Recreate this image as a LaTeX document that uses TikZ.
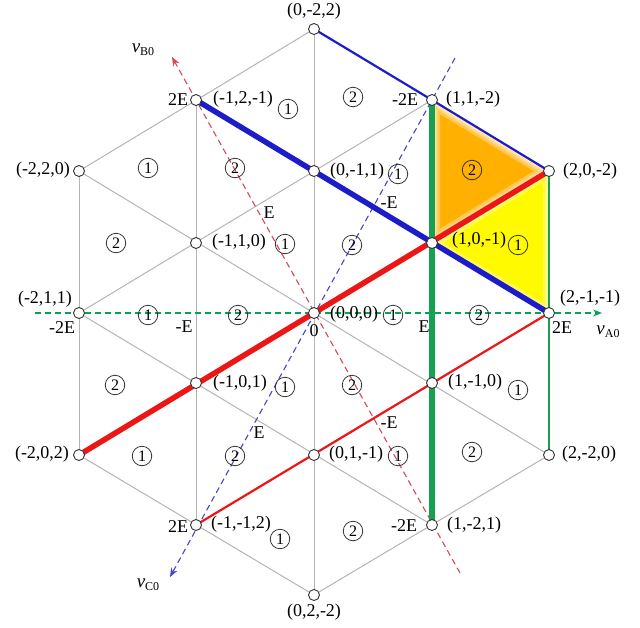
\documentclass[tikz,border=0pt]{standalone}
\usepackage{fontspec}
\setmainfont{Liberation Serif}
\usetikzlibrary{arrows.meta}
\definecolor{myblue}{RGB}{28,28,200}
\definecolor{myred}{RGB}{236,22,22}
\definecolor{mygreen}{RGB}{22,160,82}
\definecolor{gridgray}{RGB}{180,180,180}
\definecolor{myorange}{RGB}{255,176,0}
\definecolor{myyellow}{RGB}{255,250,0}
\definecolor{axred}{RGB}{215,70,85}
\definecolor{axblue}{RGB}{70,70,200}
\definecolor{axgreen}{RGB}{0,165,90}
\pgfdeclarelayer{bg}
\pgfsetlayers{bg,main}
\begin{document}
\begin{tikzpicture}[x=1pt,y=-1pt,
  pt/.style={circle,draw=black!80,fill=white,line width=0.9pt,minimum size=11pt,inner sep=0pt},
  lab/.style={font=\fontsize{18}{20}\selectfont,inner sep=0pt},
  tick/.style={font=\fontsize{18}{20}\selectfont,inner sep=0pt},
  num/.style={circle,draw=black!80,line width=0.8pt,minimum size=19.5pt,inner sep=0pt,font=\fontsize{16}{17}\selectfont},
  gridline/.style={gridgray,line width=1pt},
  thickline/.style={line width=5.5pt},
  thinline/.style={line width=2.2pt},
  axis/.style={dash pattern=on 6pt off 4pt,line width=1.1pt},
  axtip/.style={-{Stealth[length=9pt,width=7pt]}},
  glow/.style={white,line join=round,opacity=0.3}
]
\useasboundingbox (0,0) rectangle (640,627);
% lattice points
\node[pt] (n0m22)  at (314,29)  {};
\node[pt] (nm12m1) at (196,100) {};
\node[pt] (n11m2)  at (432,100) {};
\node[pt] (nm220)  at (79,171)  {};
\node[pt] (n0m11)  at (314,171) {};
\node[pt] (n20m2)  at (549,171) {};
\node[pt] (nm110)  at (196,243) {};
\node[pt] (n10m1)  at (432,243) {};
\node[pt] (nm211)  at (79,313)  {};
\node[pt] (n000)   at (314,313) {};
\node[pt] (n2m1m1) at (549,313) {};
\node[pt] (nm101)  at (196,383) {};
\node[pt] (n1m10)  at (432,383) {};
\node[pt] (nm202)  at (79,455)  {};
\node[pt] (n01m1)  at (314,455) {};
\node[pt] (n2m20)  at (549,455) {};
\node[pt] (nm1m12) at (196,525) {};
\node[pt] (n1m21)  at (432,525) {};
\node[pt] (n02m2)  at (314,595) {};
% axis end points
\coordinate (aAs) at (35,313);
\coordinate (aAe) at (602,313);
\coordinate (aBs) at (460,573);
\coordinate (aBe) at (172,57);
\coordinate (aCs) at (455,58);
\coordinate (aCe) at (170,577);
\begin{pgfonlayer}{bg}
  % fills with soft edges
  \begin{scope}
    \clip (n11m2.center) -- (n20m2.center) -- (n10m1.center) -- cycle;
    \fill[myorange] (n11m2.center) -- (n20m2.center) -- (n10m1.center) -- cycle;
    \foreach \w in {16,11,7,4}
      \draw[glow,line width=\w pt] (n11m2.center) -- (n20m2.center) -- (n10m1.center) -- cycle;
  \end{scope}
  \begin{scope}
    \clip (n10m1.center) -- (n20m2.center) -- (n2m1m1.center) -- cycle;
    \fill[myyellow] (n10m1.center) -- (n20m2.center) -- (n2m1m1.center) -- cycle;
    \foreach \w in {12,7,4}
      \draw[glow,line width=\w pt] (n10m1.center) -- (n20m2.center) -- (n2m1m1.center) -- cycle;
  \end{scope}
  % gray grid
  \draw[gridline] (nm220.center) -- (nm202.center);
  \draw[gridline] (nm12m1.center) -- (nm1m12.center);
  \draw[gridline] (n0m22.center) -- (n02m2.center);
  \draw[gridline] (nm220.center) -- (n0m22.center);
  \draw[gridline] (nm211.center) -- (n11m2.center);
  \draw[gridline] (nm220.center) -- (n2m20.center);
  \draw[gridline] (nm211.center) -- (n1m21.center);
  \draw[gridline] (nm202.center) -- (n02m2.center);
  \draw[gridline] (n02m2.center) -- (n2m20.center);
  % dashed axes
  \draw[axis,axgreen,axtip] (aAs) -- (aAe);
  \draw[axis,axred,axtip] (aBs) -- (aBe);
  \draw[axis,axblue,axtip] (aCs) -- (aCe);
  % coloured paths
  \draw[thinline,myblue] (n0m22.center) -- (n11m2.center) -- (n20m2.center);
  \draw[thickline,myblue] (nm12m1.center) -- (n2m1m1.center);
  \draw[thinline,mygreen] (n20m2.center) -- (n2m20.center);
  \draw[thickline,mygreen] (n11m2.center) -- (n1m21.center);
  \draw[thickline,myred] (nm202.center) -- (n20m2.center);
  \draw[thinline,myred] (nm1m12.center) -- (n2m1m1.center);
\end{pgfonlayer}
% point labels
\node[lab] (l0m22)  at (314,11)  {(0,-2,2)};
\node[lab] (lm12m1) at (243,99)  {(-1,2,-1)};
\node[lab] (l11m2)  at (473,99)  {(1,1,-2)};
\node[lab] (lm220)  at (43,170)  {(-2,2,0)};
\node[lab] (l0m11)  at (357,171) {(0,-1,1)};
\node[lab] (l20m2)  at (590,171) {(2,0,-2)};
\node[lab] (lm110)  at (239,242) {(-1,1,0)};
\node[lab] (l10m1)  at (479,240) {(1,0,-1)};
\node[lab] (lm211)  at (45,299)  {(-2,1,1)};
\node[lab] (l000)   at (354,314) {(0,0,0)};
\node[lab] (l2m1m1) at (590,298) {(2,-1,-1)};
\node[lab] (lm101)  at (240,383) {(-1,0,1)};
\node[lab] (l1m10)  at (475,382) {(1,-1,0)};
\node[lab] (lm202)  at (42,454)  {(-2,0,2)};
\node[lab] (l01m1)  at (356,454) {(0,1,-1)};
\node[lab] (l2m20)  at (589,454) {(2,-2,0)};
\node[lab] (lm1m12) at (241,524) {(-1,-1,2)};
\node[lab] (l1m21)  at (474,525) {(1,-2,1)};
\node[lab] (l02m2)  at (314,612) {(0,2,-2)};
% tick labels
\node[tick] (tA1) at (62,328)  {-2E};
\node[tick] (tA2) at (184,327) {-E};
\node[tick] (tA3) at (314,331) {0};
\node[tick] (tA4) at (424,327) {E};
\node[tick] (tA5) at (562,328) {2E};
\node[tick] (tB1) at (178,100) {2E};
\node[tick] (tB2) at (269,213) {E};
\node[tick] (tB3) at (389,423) {-E};
\node[tick] (tB4) at (404,526) {-2E};
\node[tick] (tC1) at (405,100) {-2E};
\node[tick] (tC2) at (389,203) {-E};
\node[tick] (tC3) at (259,433) {E};
\node[tick] (tC4) at (178,527) {2E};
% axis names
\node[inner sep=0pt] (vA) at (608,332) {\fontsize{19}{20}\selectfont\textit{v}\raisebox{-0.35ex}{\fontsize{12}{12}\selectfont A0}};
\node[inner sep=0pt] (vB) at (143,50) {\fontsize{19}{20}\selectfont\textit{v}\raisebox{-0.35ex}{\fontsize{12}{12}\selectfont B0}};
\node[inner sep=0pt] (vC) at (148,585) {\fontsize{19}{20}\selectfont\textit{v}\raisebox{-0.35ex}{\fontsize{12}{12}\selectfont C0}};
% region numbers
\node[num] (r1)  at (288,109) {1};
\node[num] (r2)  at (353,97)  {2};
\node[num] (r3)  at (148,168) {1};
\node[num] (r4)  at (235,168) {2};
\node[num] (r5)  at (398,174) {1};
\node[num] (r6)  at (472,170) {2};
\node[num] (r7)  at (116,243) {2};
\node[num] (r8)  at (285,244) {1};
\node[num] (r9)  at (352,245) {2};
\node[num] (r10) at (518,245) {1};
\node[num] (r11) at (148,315) {1};
\node[num] (r12) at (238,315) {2};
\node[num] (r13) at (393,315) {1};
\node[num] (r14) at (479,315) {2};
\node[num] (r15) at (115,385) {2};
\node[num] (r16) at (285,387) {1};
\node[num] (r17) at (352,385) {2};
\node[num] (r18) at (518,390) {1};
\node[num] (r19) at (142,456) {1};
\node[num] (r20) at (235,456) {2};
\node[num] (r21) at (398,456) {1};
\node[num] (r22) at (472,452) {2};
\node[num] (r23) at (280,539) {1};
\node[num] (r24) at (353,531) {2};
\end{tikzpicture}
\end{document}
